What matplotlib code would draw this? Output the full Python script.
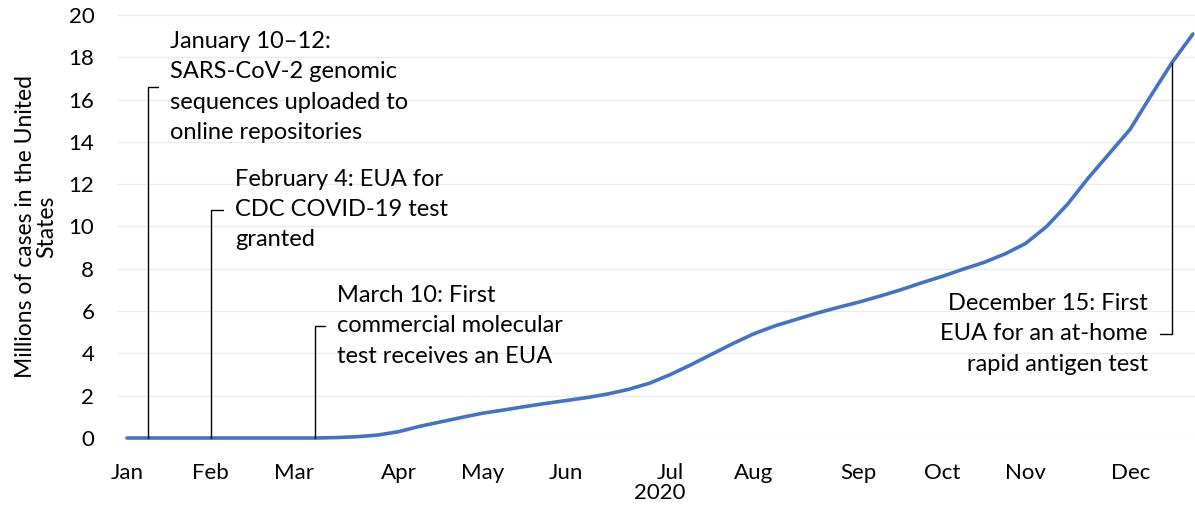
import matplotlib
matplotlib.use("Agg")
import matplotlib.pyplot as plt
import matplotlib.transforms as mtransforms
import pandas as pd

plt.rcParams['font.family'] = ['Lato', 'DejaVu Sans']

# weekly cumulative cases (millions), weeks starting 2020-01-06
week_start = '2020-01-06'
cases = [0, 0, 0, 0, 0, 0, 0, 0, 0, 0,
         0.02, 0.06, 0.14, 0.30, 0.55, 0.76, 0.97, 1.17, 1.32, 1.48,
         1.63, 1.77, 1.91, 2.08, 2.30, 2.59, 3.00, 3.47, 3.97, 4.47,
         4.93, 5.30, 5.60, 5.90, 6.17, 6.42, 6.70, 7.00, 7.33, 7.64,
         7.98, 8.30, 8.70, 9.20, 10.00, 11.05, 12.30, 13.45, 14.60, 16.20,
         17.75, 19.10]

# events: week index on the curve, text, text anchor (week, y), alignment
event_weeks = [1, 4, 9, 50]
event_texts = ["January 10\u201312:\nSARS-CoV-2 genomic\nsequences uploaded to\nonline repositories",
               "February 4: EUA for\nCDC COVID-19 test\ngranted",
               "March 10: First\ncommercial molecular\ntest receives an EUA",
               "December 15: First\nEUA for an at-home\nrapid antigen test"]
text_x = [2.06, 5.17, 10.05, 48.85]
text_y = [16.6, 10.8, 5.3, 4.92]
text_ha = ['left', 'left', 'left', 'right']

dates = pd.date_range(week_start, periods=len(cases), freq='7D')
weeks = list(range(len(cases)))

# first week of each month gets the label
tick_pos, tick_lab = [], []
prev = None
for i, d in enumerate(dates):
    if d.month != prev:
        tick_pos.append(i)
        tick_lab.append(d.strftime('%b'))
        prev = d.month

fig = plt.figure(figsize=(11.95, 5.08), dpi=100)
ax = fig.add_axes([0.0975, 0.1378, 0.9025, 0.8327])

ax.plot(weeks, cases, color='#4472C4', linewidth=2.6, clip_on=False,
        solid_capstyle='round', solid_joinstyle='round', zorder=3)

ax.set_xlim(-0.5, 51.1)
ax.set_ylim(0, 20)
ax.set_yticks(range(0, 21, 2))
ax.set_xticks(tick_pos)
ax.set_xticklabels(tick_lab)
ax.grid(True, axis='y', color='#EBEBEB', linewidth=1)
ax.set_axisbelow(True)
for s in ax.spines.values():
    s.set_visible(False)
ax.tick_params(axis='both', length=0, labelsize=16, colors='black')
ax.tick_params(axis='y', pad=16)
ax.tick_params(axis='x', pad=18)

ax.set_ylabel("Millions of cases in the United\nStates", fontsize=16.5,
              labelpad=8, linespacing=1.0)

trans = mtransforms.blended_transform_factory(ax.transData, ax.transAxes)
ax.text(tick_pos[6] + 0.72, -0.13, "2020", transform=trans, ha='right',
        va='center', fontsize=16)

for w, t, tx, ty, ha in zip(event_weeks, event_texts, text_x, text_y, text_ha):
    rel = (0, 0.5) if ha == 'left' else (1, 0.5)
    ax.annotate(t, xy=(w, cases[w]), xytext=(tx, ty), ha=ha, va='center',
                fontsize=17, linespacing=1.55,
                arrowprops=dict(arrowstyle='-', color='black', lw=1,
                                connectionstyle='angle,angleA=0,angleB=90,rad=0',
                                relpos=rel, shrinkA=7, shrinkB=0))

fig.savefig('out.png', dpi=100)
